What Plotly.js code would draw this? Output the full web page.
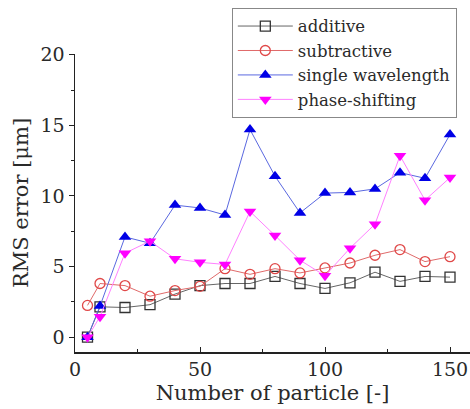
<!DOCTYPE html>
<html>
<head>
<meta charset="utf-8">
<script src="https://cdn.plot.ly/plotly-3.0.1.min.js"></script>
<style>html,body{margin:0;padding:0;background:#fff;}#chart{width:470px;height:409px;}</style>
</head>
<body>
<div id="chart"></div>
<script>
const particles = [5, 10, 20, 30, 40, 50, 60, 70, 80, 90, 100, 110, 120, 130, 140, 150];
const additive = [0, 2.15, 2.1, 2.3, 3.05, 3.65, 3.8, 3.8, 4.3, 3.8, 3.45, 3.85, 4.6, 3.95, 4.3, 4.25];
const subtractive = [2.25, 3.8, 3.65, 2.9, 3.3, 3.6, 4.85, 4.45, 4.85, 4.55, 4.9, 5.25, 5.8, 6.2, 5.35, 5.7];
const singleWavelength = [0, 2.2, 7.1, 6.65, 9.35, 9.15, 8.65, 14.7, 11.4, 8.8, 10.2, 10.25, 10.5, 11.65, 11.25, 14.35];
const phaseShifting = [0, 1.45, 5.95, 6.8, 5.55, 5.3, 5.15, 8.9, 7.2, 5.45, 4.35, 6.3, 8.0, 12.85, 9.7, 11.3];
const seriesNames = ['additive', 'subtractive', 'single wavelength', 'phase-shifting'];

const font = 'DejaVu Serif, serif';
const textColor = '#2a2a2a';
const traces = [
  {x: particles, y: additive, name: seriesNames[0], mode: 'lines+markers', type: 'scatter',
   line: {color: '#666666', width: 1},
   marker: {symbol: 'square-open', size: 10, color: '#333333', line: {width: 1.3, color: '#333333'}}},
  {x: particles, y: subtractive, name: seriesNames[1], mode: 'lines+markers', type: 'scatter',
   line: {color: '#e06a6a', width: 1},
   marker: {symbol: 'circle-open', size: 10, color: '#e04848', line: {width: 1.3, color: '#e04848'}}},
  {x: particles, y: singleWavelength, name: seriesNames[2], mode: 'lines+markers', type: 'scatter',
   line: {color: '#5a68e0', width: 1},
   marker: {symbol: 'triangle-up', size: 11, color: '#0000e6', line: {width: 0}}},
  {x: particles, y: phaseShifting, name: seriesNames[3], mode: 'lines+markers', type: 'scatter',
   line: {color: '#ff80ff', width: 1},
   marker: {symbol: 'triangle-down', size: 11, color: '#ff00ff', line: {width: 0}}}
];

const layout = {
  width: 470, height: 409,
  margin: {l: 75, r: 0, t: 54, b: 57},
  paper_bgcolor: '#ffffff', plot_bgcolor: '#ffffff',
  font: {family: font, size: 19, color: textColor},
  showlegend: true,
  legend: {x: 0.397, y: 1.155, xanchor: 'left', yanchor: 'top',
    bordercolor: '#888888', borderwidth: 1, bgcolor: '#ffffff',
    itemwidth: 55,
    font: {family: font, size: 16.5, color: textColor}, tracegroupgap: 0},
  xaxis: {
    range: [0, 158], showgrid: false, zeroline: false,
    showline: true, linecolor: '#222222', linewidth: 1.5, mirror: false,
    ticks: 'inside', ticklen: 5, tickcolor: '#222222',
    tickvals: [0, 50, 100, 150], ticktext: ['0', '50', '100', '150'],
    minor: {tickvals: [25, 75, 125], ticks: 'inside', ticklen: 3, tickcolor: '#222222'},
    tickfont: {family: font, size: 19, color: textColor},
    title: {text: 'Number of particle [-]', font: {family: font, size: 21, color: textColor}, standoff: 6}
  },
  yaxis: {
    range: [-1.05, 20.05], showgrid: false, zeroline: false,
    showline: true, linecolor: '#222222', linewidth: 1.5, mirror: false,
    ticks: 'outside', ticklen: 5, tickcolor: '#222222',
    tickvals: [0, 5, 10, 15, 20], ticktext: ['0', '5', '10', '15', '20'],
    minor: {tickvals: [2.5, 7.5, 12.5, 17.5], ticks: 'outside', ticklen: 3, tickcolor: '#222222'},
    tickfont: {family: font, size: 19, color: textColor},
    title: {text: 'RMS error [μm]', font: {family: font, size: 21, color: textColor}, standoff: 6}
  }
};

Plotly.newPlot('chart', traces, layout, {displayModeBar: false, staticPlot: true});
</script>
</body>
</html>
